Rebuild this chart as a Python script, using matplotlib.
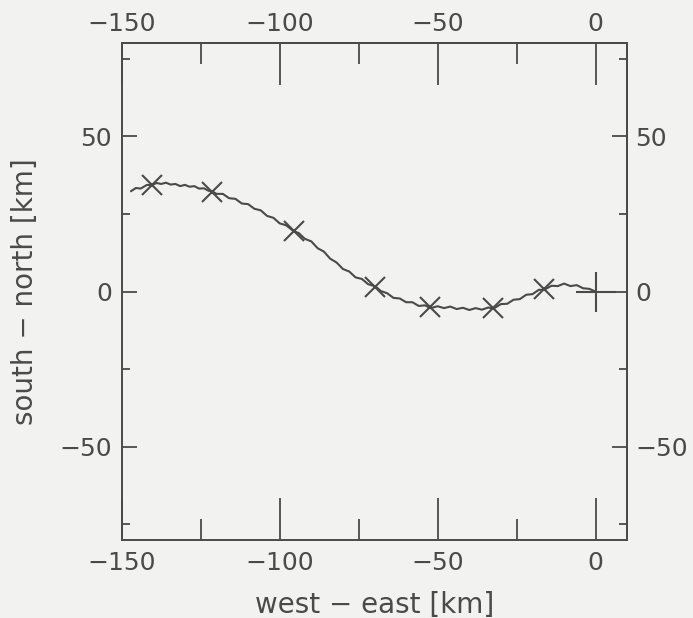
import matplotlib
matplotlib.use("Agg")
import matplotlib.pyplot as plt

# ---- data ----
track_x = [-147, -145.5, -144, -142, -140.5, -139, -137.5, -136, -134.5, -133,
           -131.5, -130, -128.5, -127, -125.5, -124, -122.5, -121.5, -120, -118,
           -116, -114, -112, -110, -108, -106, -104, -102, -100, -98,
           -95.6, -94, -92, -90, -88, -86, -84, -82, -80, -78,
           -76, -74, -72, -69.7, -68, -66, -64, -62, -60, -58,
           -56, -54, -52.3, -50, -48, -46, -44, -42, -40, -38,
           -36, -34, -32.4, -30, -28, -26, -24, -22, -20, -18,
           -16.3, -14, -12, -10, -8, -6, -4, -2, 0]
track_y = [32.4, 33.4, 33.2, 34.4, 34.3, 35.0, 34.7, 35.1, 34.5, 34.7,
           34.0, 34.4, 33.8, 34.0, 33.2, 33.3, 32.5, 32.4, 31.5, 31.5,
           30.1, 29.9, 28.4, 28.2, 26.7, 26.2, 24.4, 23.8, 22.0, 21.4,
           19.5, 18.9, 17.0, 16.2, 14.0, 12.9, 10.6, 9.4, 7.3, 6.5,
           4.6, 4.1, 2.4, 1.7, 0.2, -0.5, -2.0, -2.2, -3.4, -3.4,
           -4.6, -4.4, -5.3, -4.7, -5.3, -4.8, -5.6, -5.2, -5.9, -5.3,
           -5.8, -5.1, -5.5, -4.0, -3.9, -2.6, -2.4, -1.0, -0.8, 0.6,
           0.6, 1.9, 1.8, 2.6, 1.8, 2.1, 1.1, 0.9, 0.0]

cross_x = [-140.5, -121.5, -95.6, -69.7, -52.3, -32.4, -16.3]
cross_y = [34.5, 32.2, 19.7, 1.5, -5.1, -5.3, 0.9]

end_x = [0]
end_y = [0]

x_major = [-150, -100, -50, 0]
x_minor = [-125, -75, -25]
y_major = [-50, 0, 50]
y_minor = [-75, -25, 25, 75]

x_label = "west \u2212 east [km]"
y_label = "south \u2212 north [km]"

# ---- style ----
ink = "#4a4a4a"
paper = "#f2f2f0"
plt.rcParams["font.family"] = ["DejaVu Sans"]
plt.rcParams["font.size"] = 18
plt.rcParams["text.color"] = ink
plt.rcParams["xtick.color"] = ink
plt.rcParams["ytick.color"] = ink

fig = plt.figure(figsize=(6.93, 6.18), dpi=100)
fig.patch.set_facecolor(paper)
ax = fig.add_axes([0.1756, 0.1262, 0.7296, 0.8037])
ax.set_facecolor(paper)

ax.plot(track_x, track_y, color=ink, lw=1.5, zorder=3)
ax.plot(cross_x, cross_y, linestyle="none", marker="x", ms=14, mew=1.5,
        color=ink, zorder=4)
ax.plot(end_x, end_y, linestyle="none", marker="+", ms=29, mew=1.5,
        color=ink, zorder=4)

ax.set_xlim(-150, 10)
ax.set_ylim(-80, 80)

for s in ax.spines.values():
    s.set_color(ink)
    s.set_linewidth(1.4)

ax.set_xticks(x_major)
ax.set_xticks(x_minor, minor=True)
ax.set_yticks(y_major)
ax.set_yticks(y_minor, minor=True)

ax.tick_params(axis="x", which="major", direction="in", length=30, width=1.3,
               pad=8, labelcolor=ink)
ax.tick_params(axis="x", which="minor", direction="in", length=15, width=1.3)
ax.tick_params(axis="y", which="major", direction="in", length=11, width=1.3,
               pad=7, labelcolor=ink)
ax.tick_params(axis="y", which="minor", direction="in", length=5.5, width=1.3)

secx = ax.secondary_xaxis("top")
secx.set_xticks(x_major)
secx.set_xticks(x_minor, minor=True)
secx.tick_params(axis="x", which="major", direction="in", length=30, width=1.3,
                 pad=5, labelcolor=ink, color=ink)
secx.tick_params(axis="x", which="minor", direction="in", length=15, width=1.3,
                 color=ink)
secx.spines["top"].set_color(ink)
secx.spines["top"].set_linewidth(1.4)

secy = ax.secondary_yaxis("right")
secy.set_yticks(y_major)
secy.set_yticks(y_minor, minor=True)
secy.tick_params(axis="y", which="major", direction="in", length=11, width=1.3,
                 pad=5.5, labelcolor=ink, color=ink)
secy.tick_params(axis="y", which="minor", direction="in", length=5.5, width=1.3,
                 color=ink)
secy.spines["right"].set_color(ink)
secy.spines["right"].set_linewidth(1.4)

ax.set_xlabel(x_label, fontsize=20, color=ink, va="center")
ax.xaxis.set_label_coords(0.5, -0.131)
ax.set_ylabel(y_label, fontsize=20, color=ink, va="center")
ax.yaxis.set_label_coords(-0.191, 0.5)

fig.savefig("out.png", dpi=100, facecolor=paper)
